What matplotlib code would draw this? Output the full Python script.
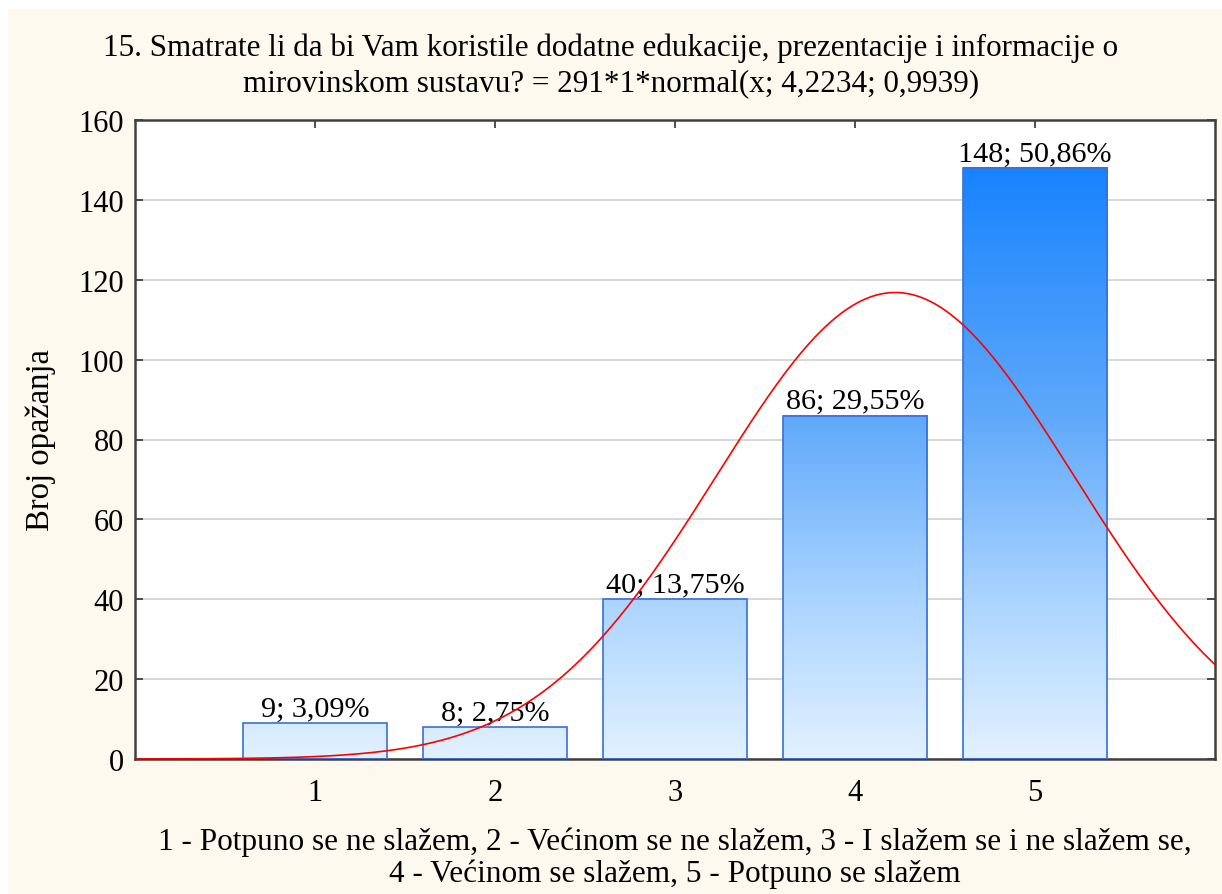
import numpy as np
import matplotlib
matplotlib.use("Agg")
import matplotlib.pyplot as plt
from matplotlib.colors import LinearSegmentedColormap
from matplotlib.patches import Rectangle

# ---- data ----
categories = [1, 2, 3, 4, 5]
counts = [9, 8, 40, 86, 148]
labels = ["9; 3,09%", "8; 2,75%", "40; 13,75%", "86; 29,55%", "148; 50,86%"]
n_total = 291
mu = 4.2234
sigma = 0.9939
yticks = [0, 20, 40, 60, 80, 100, 120, 140, 160]
title = ("15. Smatrate li da bi Vam koristile dodatne edukacije, prezentacije i informacije o\n"
         "mirovinskom sustavu? = 291*1*normal(x; 4,2234; 0,9939)")
xlabel = ("1 - Potpuno se ne slažem, 2 - Većinom se ne slažem, 3 - I slažem se i ne slažem se,\n"
          "4 - Većinom se slažem, 5 - Potpuno se slažem")
ylabel = "Broj opažanja"

plt.rcParams['font.family'] = ['Liberation Serif', 'DejaVu Serif']

W, H = 1222, 895
cream = '#FDF9EF'
fig = plt.figure(figsize=(W / 100, H / 100), dpi=100, facecolor=cream)
fig.patches.append(Rectangle((0, 1 - 10 / H), 1, 10 / H, transform=fig.transFigure,
                             facecolor='white', edgecolor='none', zorder=-10))
fig.patches.append(Rectangle((0, 0), 8 / W, 1, transform=fig.transFigure,
                             facecolor='white', edgecolor='none', zorder=-10))

ax = fig.add_axes([135 / W, 1 - 760 / H, (1215 - 135) / W, (760 - 121) / H])
ax.set_facecolor('white')
ax.set_xlim(0, 6)
ax.set_ylim(0, 160)

cmap = LinearSegmentedColormap.from_list(
    'g', [(0.0, '#E2F1FF'), (0.25, '#AAD4FF'), (0.54, '#5EA8FA'), (1.0, '#0A7CFF')])
width = 0.8
for x, c in zip(categories, counts):
    grad = np.linspace(0, c, 200).reshape(-1, 1)
    ax.imshow(grad, extent=[x - width / 2, x + width / 2, 0, c], origin='lower',
              aspect='auto', cmap=cmap, vmin=0, vmax=160, zorder=2, interpolation='bilinear')
    ax.add_patch(Rectangle((x - width / 2, 0), width, c, facecolor='none',
                           edgecolor='#3A6FD8', lw=1.2, zorder=3))
for x, c, lab in zip(categories, counts, labels):
    ax.text(x, c + 0.3, lab, ha='center', va='bottom', fontsize=21.7, zorder=4)

xs = np.linspace(0, 6, 600)
ys = n_total * np.exp(-0.5 * ((xs - mu) / sigma) ** 2) / (sigma * np.sqrt(2 * np.pi))
ax.plot(xs, ys, color='red', lw=1.2, zorder=5)

ax.set_yticks(yticks)
ax.set_xticks(categories)
ax.grid(axis='y', color='#D4D4D4', lw=1.3, zorder=1)
ax.set_axisbelow(True)
ax.tick_params(direction='in', length=6, width=1.3, color='#404040',
               top=True, right=True, labelsize=22)
ax.tick_params(axis='x', pad=14)
ax.tick_params(axis='y', pad=8)
for s in ax.spines.values():
    s.set_color('#404040')
    s.set_linewidth(1.8)

ax.set_xlabel(xlabel, fontsize=22.5, linespacing=1.1, labelpad=14)
ax.set_ylabel(ylabel, fontsize=23.5, labelpad=16)
fig.text(0.5, 1 - 66 / H, title, ha='center', va='center', fontsize=22.4, linespacing=1.3)

fig.savefig('out.png', dpi=100, facecolor=fig.get_facecolor())
